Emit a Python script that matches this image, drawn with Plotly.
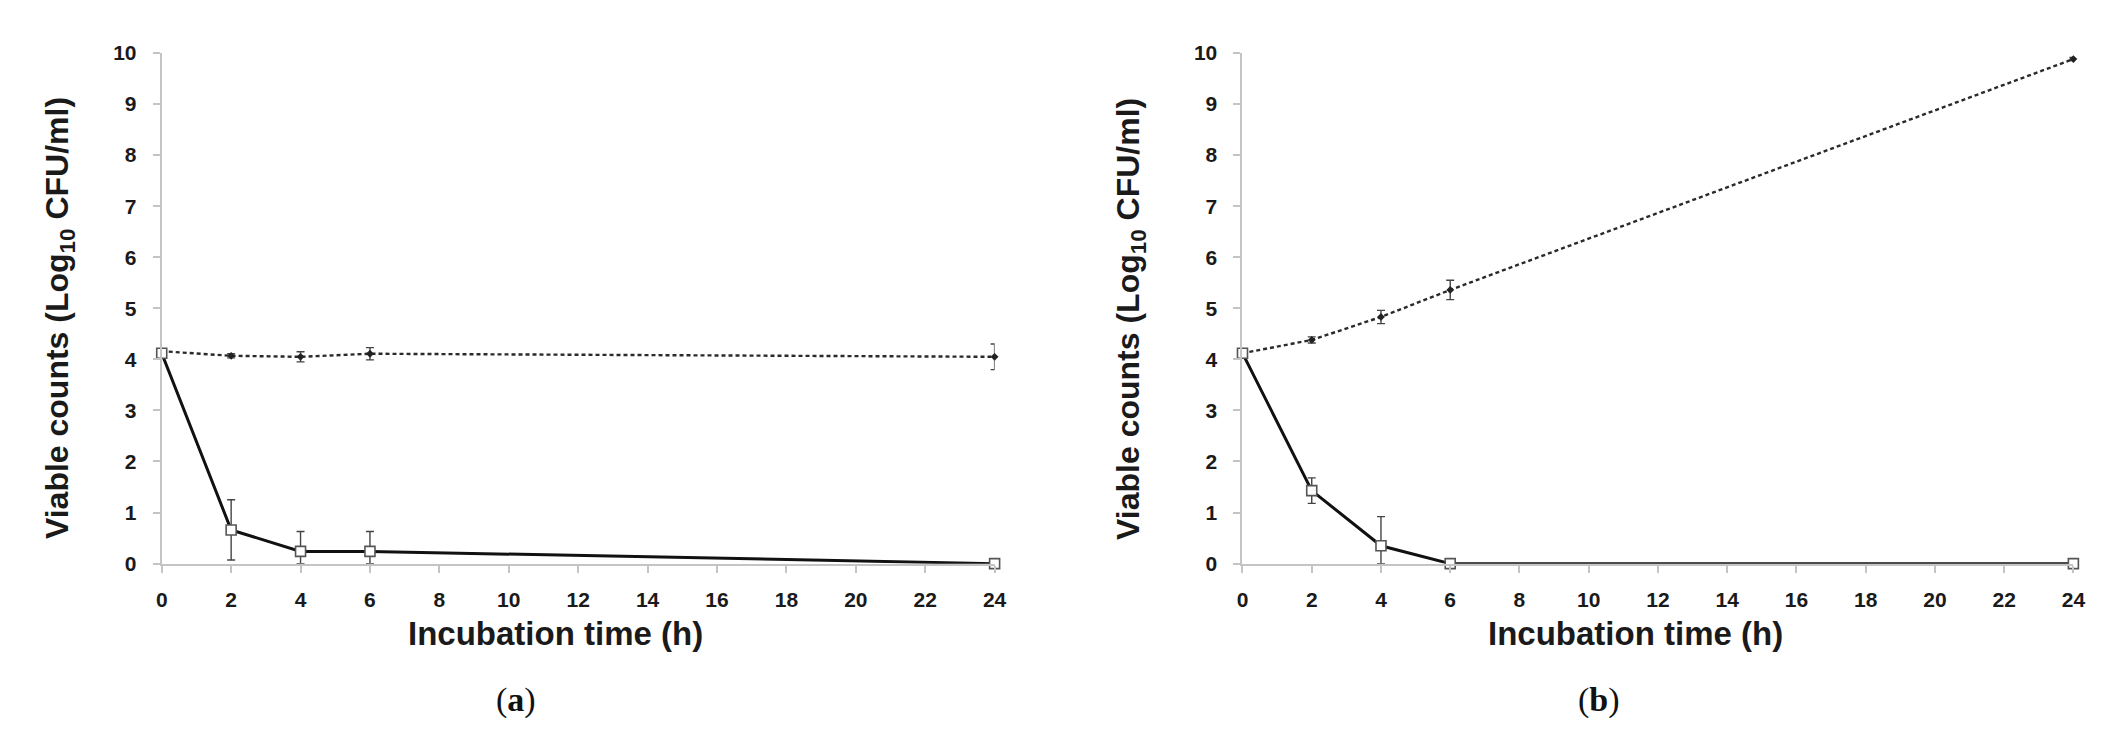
import plotly.graph_objects as go

# ---- data ----
time_h = [0, 2, 4, 6, 24]

# panel (a)
a_ctrl = [4.16, 4.07, 4.05, 4.11, 4.05]
a_ctrl_err = [0.03, 0.04, 0.10, 0.12, 0.25]
a_trt = [4.12, 0.66, 0.24, 0.24, 0.0]
a_trt_err = [0.03, 0.59, 0.39, 0.39, 0.0]

# panel (b)
b_ctrl = [4.12, 4.38, 4.83, 5.36, 9.88]
b_ctrl_err = [0.03, 0.06, 0.13, 0.19, 0.03]
b_trt = [4.12, 1.43, 0.35, 0.0, 0.0]
b_trt_err = [0.03, 0.25, 0.57, 0.0, 0.0]

x_ticks = list(range(0, 25, 2))
y_ticks = list(range(0, 11))

W, H = 2123, 743
AXIS_GRAY = "#c4c4c4"
TEXT = "#1a1a1a"
FONT = "Liberation Sans"

fig = go.Figure()

def add_panel(xa, ya, ctrl, ctrl_err, trt, trt_err):
    # error bars do not go below the x axis (as in the source chart)
    ctrl_minus = [min(e, v) for e, v in zip(ctrl_err, ctrl)]
    trt_minus = [min(e, v) for e, v in zip(trt_err, trt)]
    fig.add_trace(go.Scatter(
        x=time_h, y=ctrl, mode="lines+markers", xaxis=xa, yaxis=ya,
        line=dict(color="#2a2a2a", width=2.4, dash="4px,3px"),
        marker=dict(symbol="diamond", size=6, color="#222222"),
        error_y=dict(type="data", array=ctrl_err, arrayminus=ctrl_minus,
                     visible=True, color="#444444", thickness=1.4, width=4),
        cliponaxis=False, showlegend=False))
    fig.add_trace(go.Scatter(
        x=time_h, y=trt, mode="lines+markers", xaxis=xa, yaxis=ya,
        line=dict(color="#111111", width=3),
        marker=dict(symbol="square", size=10, color="white",
                    line=dict(color="#555555", width=1.6)),
        error_y=dict(type="data", array=trt_err, arrayminus=trt_minus,
                     visible=True, color="#444444", thickness=1.4, width=4),
        cliponaxis=False, showlegend=False))

add_panel("x", "y", a_ctrl, a_ctrl_err, a_trt, a_trt_err)
add_panel("x2", "y2", b_ctrl, b_ctrl_err, b_trt, b_trt_err)

def px_x(p):
    return p / W

def px_y(p):
    return 1 - p / H

y_dom = [px_y(561), px_y(34)]

xaxis_common = dict(
    range=[0, 24], tickvals=x_ticks, showgrid=False, zeroline=False,
    showline=True, linecolor=AXIS_GRAY, linewidth=2,
    ticks="outside", ticklen=7, tickwidth=2, tickcolor=AXIS_GRAY,
    tickfont=dict(family=FONT, size=21, color=TEXT, weight="bold"),
    ticklabelstandoff=9, fixedrange=True,
)
yaxis_common = dict(
    range=[0, 10], tickvals=y_ticks, showgrid=False, zeroline=False,
    showline=True, linecolor=AXIS_GRAY, linewidth=2,
    ticks="outside", ticklen=7, tickwidth=2, tickcolor=AXIS_GRAY,
    tickfont=dict(family=FONT, size=21, color=TEXT, weight="bold"),
    ticklabelstandoff=12, domain=y_dom, fixedrange=True,
)

fig.update_layout(
    width=W, height=H,
    margin=dict(l=0, r=0, t=0, b=0),
    paper_bgcolor="white", plot_bgcolor="white",
    xaxis=dict(domain=[px_x(149), px_x(989)], anchor="y", **xaxis_common),
    yaxis=dict(anchor="x", **yaxis_common),
    xaxis2=dict(domain=[px_x(1239), px_x(2077)], anchor="y2", **xaxis_common),
    yaxis2=dict(anchor="x2", **yaxis_common),
)

ytitle = "<b>Viable counts (Log<sub>10</sub> CFU/ml)</b>"
xtitle = "<b>Incubation time (h)</b>"

annos = []
for yx, xx, lab_x, lab in [(46, 546, 506, "(<b>a</b>)"), (1126, 1635, 1599, "(<b>b</b>)")]:
    annos.append(dict(x=px_x(yx), y=px_y(308), xref="paper", yref="paper",
                      text=ytitle, textangle=-90, showarrow=False,
                      xanchor="center", yanchor="middle",
                      font=dict(family=FONT, size=32, color=TEXT)))
    annos.append(dict(x=px_x(xx), y=px_y(633), xref="paper", yref="paper",
                      text=xtitle, showarrow=False,
                      xanchor="center", yanchor="middle",
                      font=dict(family=FONT, size=33, color=TEXT)))
    annos.append(dict(x=px_x(lab_x), y=px_y(702), xref="paper", yref="paper",
                      text=lab, showarrow=False,
                      xanchor="center", yanchor="middle",
                      font=dict(family="Liberation Serif", size=34, color="#111111")))
fig.update_layout(annotations=annos)

fig.write_html("out.html")
